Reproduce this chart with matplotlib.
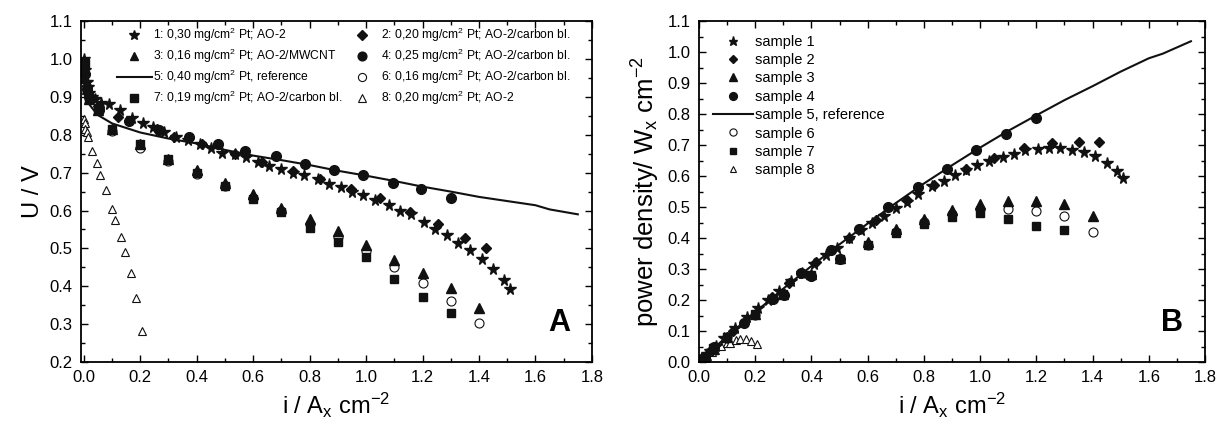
import numpy as np
import matplotlib.pyplot as plt
from matplotlib.ticker import MultipleLocator

plt.rcParams['font.family'] = ['Liberation Sans', 'DejaVu Sans']
plt.rcParams['mathtext.fontset'] = 'custom'
plt.rcParams['mathtext.rm'] = 'Liberation Sans'
plt.rcParams['mathtext.it'] = 'Liberation Sans:italic'

# ---- panel A: cell voltage U vs current density i ----
# sample 1 (stars)
i1 = [0.002, 0.005, 0.01, 0.015, 0.02, 0.03, 0.04, 0.06, 0.09, 0.127, 0.17, 0.21, 0.244,
      0.285, 0.327, 0.368, 0.41, 0.45, 0.49, 0.534, 0.575, 0.616, 0.657, 0.70, 0.74, 0.78,
      0.83, 0.87, 0.91, 0.95, 0.99, 1.03, 1.08, 1.12, 1.16, 1.205, 1.244, 1.285, 1.327,
      1.368, 1.41, 1.45, 1.487, 1.51]
u1 = [1.0, 0.97, 0.94, 0.925, 0.91, 0.90, 0.895, 0.885, 0.88, 0.865, 0.845, 0.83, 0.82,
      0.807, 0.794, 0.785, 0.775, 0.766, 0.753, 0.749, 0.74, 0.728, 0.717, 0.71, 0.70, 0.695,
      0.683, 0.67, 0.663, 0.648, 0.64, 0.628, 0.614, 0.60, 0.59, 0.57, 0.551, 0.535, 0.515,
      0.496, 0.473, 0.445, 0.416, 0.392]
# sample 2 (diamonds)
i2 = [0.005, 0.01, 0.02, 0.05, 0.12, 0.258, 0.32, 0.417, 0.534, 0.63, 0.74, 0.837, 0.948,
      1.05, 1.155, 1.254, 1.352, 1.423]
u2 = [0.96, 0.93, 0.905, 0.875, 0.847, 0.815, 0.793, 0.775, 0.749, 0.727, 0.705, 0.683,
      0.656, 0.632, 0.596, 0.564, 0.528, 0.50]
# sample 3 (filled triangles)
i3 = [0.005, 0.01, 0.02, 0.05, 0.1, 0.2, 0.3, 0.4, 0.5, 0.6, 0.7, 0.8, 0.9, 1.0, 1.1, 1.2, 1.3, 1.4]
u3 = [0.95, 0.92, 0.895, 0.865, 0.815, 0.775, 0.737, 0.707, 0.672, 0.643, 0.607, 0.578,
      0.545, 0.51, 0.47, 0.435, 0.395, 0.343]
# sample 4 (filled circles)
i4 = [0.005, 0.01, 0.02, 0.055, 0.161, 0.265, 0.371, 0.474, 0.572, 0.681, 0.782, 0.888,
      0.989, 1.097, 1.196, 1.30]
u4 = [0.96, 0.92, 0.90, 0.865, 0.836, 0.813, 0.794, 0.776, 0.758, 0.743, 0.723, 0.707,
      0.694, 0.673, 0.657, 0.634]
# sample 5 (reference, line)
i5 = [0.0, 0.005, 0.01, 0.02, 0.03, 0.05, 0.1, 0.2, 0.3, 0.4, 0.5, 0.6, 0.7, 0.8, 0.9,
      1.0, 1.1, 1.2, 1.3, 1.4, 1.5, 1.6, 1.65, 1.75]
u5 = [0.93, 0.91, 0.895, 0.88, 0.87, 0.852, 0.83, 0.806, 0.79, 0.777, 0.76, 0.745, 0.733,
      0.72, 0.705, 0.692, 0.678, 0.663, 0.65, 0.636, 0.625, 0.614, 0.603, 0.59]
# sample 6 (open circles)
i6 = [0.1, 0.2, 0.3, 0.4, 0.5, 0.6, 0.7, 0.8, 0.9, 1.0, 1.1, 1.2, 1.3, 1.4]
u6 = [0.81, 0.765, 0.73, 0.697, 0.665, 0.632, 0.60, 0.565, 0.53, 0.493, 0.45, 0.41, 0.36, 0.302]
# sample 7 (squares)
i7 = [0.005, 0.01, 0.02, 0.05, 0.1, 0.2, 0.3, 0.4, 0.5, 0.6, 0.7, 0.8, 0.9, 1.0, 1.1, 1.2, 1.3]
u7 = [0.99, 0.92, 0.895, 0.865, 0.815, 0.775, 0.735, 0.70, 0.665, 0.63, 0.595, 0.555,
      0.517, 0.477, 0.42, 0.373, 0.33]
# sample 8 (open triangles)
i8 = [0.0, 0.003, 0.006, 0.01, 0.015, 0.028, 0.047, 0.058, 0.079, 0.099, 0.11, 0.131,
      0.145, 0.166, 0.185, 0.207]
u8 = [0.842, 0.83, 0.815, 0.807, 0.794, 0.758, 0.725, 0.695, 0.655, 0.604, 0.574, 0.53,
      0.491, 0.436, 0.37, 0.282]

# ---- panel B: power density vs current density ----
p1 = [0.002, 0.005, 0.009, 0.014, 0.018, 0.027, 0.036, 0.053, 0.079, 0.11, 0.144, 0.174,
      0.2, 0.23, 0.26, 0.289, 0.318, 0.345, 0.369, 0.40, 0.425, 0.449, 0.471, 0.497, 0.518,
      0.542, 0.567, 0.583, 0.603, 0.62, 0.636, 0.65, 0.663, 0.672, 0.684, 0.687, 0.69, 0.69,
      0.685, 0.677, 0.664, 0.643, 0.618, 0.594]
p2 = [0.005, 0.009, 0.018, 0.044, 0.10, 0.21, 0.255, 0.323, 0.40, 0.458, 0.522, 0.572,
      0.622, 0.658, 0.69, 0.707, 0.711, 0.71]
i3b = [0.005, 0.01, 0.02, 0.05, 0.1, 0.2, 0.3, 0.4, 0.5, 0.6, 0.7, 0.8, 0.9, 1.0, 1.1, 1.2, 1.3, 1.4]
p3 = [0.005, 0.009, 0.018, 0.043, 0.082, 0.155, 0.221, 0.283, 0.336, 0.386, 0.428, 0.462,
      0.49, 0.51, 0.52, 0.52, 0.51, 0.47]
i4b = [0.005, 0.01, 0.02, 0.055, 0.161, 0.262, 0.304, 0.362, 0.40, 0.468, 0.50, 0.569,
       0.672, 0.778, 0.883, 0.987, 1.093, 1.197]
p4 = [0.005, 0.009, 0.018, 0.048, 0.125, 0.204, 0.218, 0.289, 0.277, 0.361, 0.332, 0.43,
      0.499, 0.564, 0.623, 0.683, 0.735, 0.786]
p5 = [0.0, 0.005, 0.009, 0.018, 0.026, 0.043, 0.083, 0.161, 0.237, 0.31, 0.38, 0.447,
      0.513, 0.576, 0.635, 0.692, 0.746, 0.796, 0.845, 0.89, 0.937, 0.98, 0.995, 1.035]
p6 = [0.081, 0.153, 0.219, 0.279, 0.333, 0.379, 0.42, 0.452, 0.477, 0.493, 0.495, 0.488,
      0.47, 0.42]
p7 = [0.005, 0.009, 0.018, 0.044, 0.081, 0.155, 0.22, 0.28, 0.333, 0.378, 0.415, 0.445,
      0.468, 0.48, 0.46, 0.44, 0.427]
p8 = [0.0, 0.002, 0.005, 0.008, 0.012, 0.021, 0.034, 0.04, 0.052, 0.06, 0.063, 0.072,
      0.076, 0.075, 0.068, 0.057]

labels_a = ["1: 0,30 mg/cm$^2$ Pt; AO-2",
            "2: 0,20 mg/cm$^2$ Pt; AO-2/carbon bl.",
            "3: 0,16 mg/cm$^2$ Pt; AO-2/MWCNT",
            "4: 0,25 mg/cm$^2$ Pt; AO-2/carbon bl.",
            "5: 0,40 mg/cm$^2$ Pt, reference",
            "6: 0,16 mg/cm$^2$ Pt; AO-2/carbon bl.",
            "7: 0,19 mg/cm$^2$ Pt; AO-2/carbon bl.",
            "8: 0,20 mg/cm$^2$ Pt; AO-2"]
labels_b = ["sample 1", "sample 2", "sample 3", "sample 4",
            "sample 5, reference", "sample 6", "sample 7", "sample 8"]

k = '#111111'
fig = plt.figure(figsize=(12.21, 4.26), dpi=100)
axA = fig.add_axes([0.0663, 0.150, 0.4185, 0.8005])
axB = fig.add_axes([0.5725, 0.150, 0.4144, 0.8005])


def draw(ax, data, labels):
    # data: list of (x, y) in sample order 1..8
    h = {}
    (x1, y1), (x2, y2), (x3, y3), (x4, y4), (x5, y5), (x6, y6), (x7, y7), (x8, y8) = data
    h[8] = ax.plot(x8, y8, ls='none', marker='^', ms=6, mfc='white', mec=k, mew=0.8, label=labels[7])[0]
    h[6] = ax.plot(x6, y6, ls='none', marker='o', ms=6.5, mfc='white', mec=k, mew=0.8, label=labels[5])[0]
    h[3] = ax.plot(x3, y3, ls='none', marker='^', ms=6.5, color=k, label=labels[2])[0]
    h[7] = ax.plot(x7, y7, ls='none', marker='s', ms=6, color=k, label=labels[6])[0]
    h[5] = ax.plot(x5, y5, '-', lw=1.5, color=k, label=labels[4])[0]
    h[4] = ax.plot(x4, y4, ls='none', marker='o', ms=7, color=k, label=labels[3])[0]
    h[2] = ax.plot(x2, y2, ls='none', marker='D', ms=5.5, color=k, label=labels[1])[0]
    h[1] = ax.plot(x1, y1, ls='none', marker='*', ms=8.5, color=k, label=labels[0])[0]
    return h


hA = draw(axA, [(i1, u1), (i2, u2), (i3, u3), (i4, u4), (i5, u5), (i6, u6), (i7, u7), (i8, u8)], labels_a)
hB = draw(axB, [(i1, p1), (i2, p2), (i3b, p3), (i4b, p4), (i5, p5), (i6, p6), (i7, p7), (i8, p8)], labels_b)

# legend A: two columns, row-wise 1,2 / 3,4 / 5,6 / 7,8
order = [1, 3, 5, 7, 2, 4, 6, 8]
axA.legend([hA[n] for n in order], [labels_a[n - 1] for n in order],
           ncol=2, loc='upper left', bbox_to_anchor=(0.07, 0.985), frameon=False,
           fontsize=8.7, handlelength=2.9, handletextpad=0.1, columnspacing=0.2,
           labelspacing=0.22, borderpad=0, borderaxespad=0, markerscale=0.9)
axB.legend([hB[n] for n in range(1, 9)], labels_b, loc='upper left',
           bbox_to_anchor=(0.028, 0.96), frameon=False, fontsize=10.5,
           handlelength=2.7, handletextpad=0.15, labelspacing=0.3,
           borderpad=0, borderaxespad=0, markerscale=0.8)

xlab = r'i / A$_{\mathrm{x}}$ cm$^{-2}$'
axA.set_xlim(-0.01, 1.8)
axA.set_ylim(0.2, 1.1)
axA.set_ylabel('U / V', fontsize=17)
axB.set_xlim(0.0, 1.8)
axB.set_ylim(0.0, 1.1)
axB.set_ylabel(r'power density/ W$_{\mathrm{x}}$ cm$^{-2}$', fontsize=18.5)

for ax, letter in [(axA, 'A'), (axB, 'B')]:
    ax.set_xlabel(xlab, fontsize=17)
    ax.xaxis.set_major_locator(MultipleLocator(0.2))
    ax.xaxis.set_minor_locator(MultipleLocator(0.1))
    ax.yaxis.set_major_locator(MultipleLocator(0.1))
    ax.yaxis.set_minor_locator(MultipleLocator(0.05))
    ax.xaxis.set_major_formatter(plt.FormatStrFormatter('%.1f'))
    ax.yaxis.set_major_formatter(plt.FormatStrFormatter('%.1f'))
    ax.tick_params(which='both', direction='in', top=True, right=True, labelsize=12, pad=6)
    ax.tick_params(which='major', length=5, width=1)
    ax.tick_params(which='minor', length=3, width=1)
    for s in ax.spines.values():
        s.set_linewidth(1.3)
    ax.text(0.957, 0.07, letter, transform=ax.transAxes, ha='right', va='bottom',
            fontsize=22, fontweight='bold')

fig.savefig('out.png', dpi=100)
